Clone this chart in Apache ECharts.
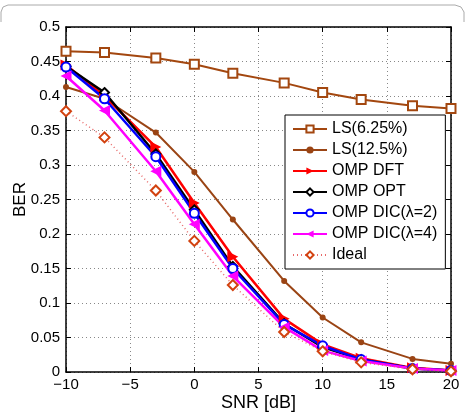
<!DOCTYPE html>
<html>
<head>
<meta charset="utf-8">
<script src="https://cdn.jsdelivr.net/npm/echarts@6/dist/echarts.min.js"></script>
<style>
html, body { margin: 0; padding: 0; background: #fff; }
#chart { width: 466px; height: 412px; }
</style>
</head>
<body>
<div id="chart"></div>
<script>
var snr = [-10, -7, -3, 0, 3, 7, 10, 13, 17, 20];

var ls625 = [0.465, 0.463, 0.455, 0.446, 0.433, 0.419, 0.405, 0.395, 0.386, 0.382];
var ls125 = [0.413, 0.396, 0.347, 0.290, 0.221, 0.132, 0.079, 0.043, 0.019, 0.012];
var ompDft = [0.445, 0.400, 0.326, 0.245, 0.167, 0.077, 0.040, 0.020, 0.006, 0.002];
var ompOpt = [0.443, 0.405, 0.316, 0.235, 0.153, 0.070, 0.036, 0.018, 0.005, 0.002];
var dic2 = [0.442, 0.396, 0.312, 0.230, 0.150, 0.069, 0.038, 0.018, 0.005, 0.002];
var dic4 = [0.429, 0.379, 0.291, 0.214, 0.139, 0.065, 0.031, 0.016, 0.005, 0.002];
var ideal = [0.378, 0.340, 0.263, 0.190, 0.126, 0.058, 0.030, 0.014, 0.004, 0.001];

var font = 'Liberation Sans, Arial, sans-serif';

function pairs(arr) {
    var out = [];
    for (var i = 0; i < arr.length; i++) {
        out.push([snr[i], arr[i]]);
    }
    return out;
}

function makeSeries(name, data, color, lineOpts, symOpts) {
    var s = {
        name: name,
        type: 'line',
        data: pairs(data),
        xAxisIndex: 0,
        yAxisIndex: 0,
        showAllSymbol: true,
        animation: false,
        lineStyle: { color: color, width: 2 },
        itemStyle: { color: color },
        emphasis: { disabled: true }
    };
    for (var k in lineOpts) s.lineStyle[k] = lineOpts[k];
    for (var m in symOpts) s[m] = symOpts[m];
    return s;
}

var chart = echarts.init(document.getElementById('chart'), null, { renderer: 'canvas' });

var boxAxisX = {
    type: 'value', min: -10, max: 20, interval: 5,
    axisLine: { show: true, onZero: false, lineStyle: { color: '#000', width: 1.5 } },
    axisTick: { show: true, inside: true, length: 5, lineStyle: { color: '#000' } },
    splitLine: { show: false }
};
var boxAxisY = {
    type: 'value', min: 0, max: 0.5, interval: 0.05,
    axisLine: { show: true, onZero: false, lineStyle: { color: '#000', width: 1.5 } },
    axisTick: { show: true, inside: true, length: 5, lineStyle: { color: '#000' } },
    splitLine: { show: false }
};

var option = {
    backgroundColor: '#fff',
    animation: false,
    textStyle: { fontFamily: font },
    grid: { left: 66, right: 15, top: 27, bottom: 40, containLabel: false, outerBoundsMode: 'none' },
    legend: {
        orient: 'vertical',
        left: 285,
        top: 115,
        padding: [6, 8, 6, 7],
        itemGap: 5,
        itemWidth: 34,
        itemHeight: 9,
        backgroundColor: '#fff',
        borderColor: '#000',
        borderWidth: 1,
        borderRadius: 0,
        textStyle: { fontFamily: font, fontSize: 16, lineHeight: 14, color: '#000' },
        data: ['LS(6.25%)', 'LS(12.5%)', 'OMP DFT', 'OMP OPT', 'OMP DIC(\u03bb=2)', 'OMP DIC(\u03bb=4)', 'Ideal']
    },
    xAxis: [
        {
            type: 'value', min: -10, max: 20, interval: 5,
            name: 'SNR [dB]', nameLocation: 'middle', nameGap: 22, nameMoveOverlap: false,
            nameTextStyle: { fontFamily: font, fontSize: 18, color: '#000' },
            axisLine: { show: true, onZero: false, lineStyle: { color: '#000', width: 1.5 } },
            axisTick: { show: true, inside: true, length: 5, lineStyle: { color: '#000' } },
            axisLabel: {
                color: '#000', fontSize: 15, fontFamily: font, margin: 5,
                formatter: function (v) { return String(v).replace('-', '\u2212'); }
            },
            splitLine: { show: true, lineStyle: { color: '#888', width: 1, type: [1, 3] } }
        },
        Object.assign({ position: 'top', axisLabel: { show: false } }, boxAxisX)
    ],
    yAxis: [
        {
            type: 'value', min: 0, max: 0.5, interval: 0.05,
            name: 'BER', nameLocation: 'middle', nameGap: 37, nameRotate: 90, nameMoveOverlap: false,
            nameTextStyle: { fontFamily: font, fontSize: 17, color: '#000' },
            axisLine: { show: true, onZero: false, lineStyle: { color: '#000', width: 1.5 } },
            axisTick: { show: true, inside: true, length: 5, lineStyle: { color: '#000' } },
            axisLabel: {
                color: '#000', fontSize: 15, fontFamily: font, margin: 6,
                formatter: function (v) { return String(+v.toFixed(2)); }
            },
            splitLine: { show: true, lineStyle: { color: '#888', width: 1, type: [1, 3] } }
        },
        Object.assign({ position: 'right', axisLabel: { show: false } }, boxAxisY)
    ],
    graphic: [
        {
            type: 'polyline',
            silent: true,
            shape: { points: [[1, 22], [1, 12], [3, 7], [8, 5], [455, 5], [461, 7], [464, 12], [464, 22]] },
            style: { stroke: '#aaa', fill: null, lineWidth: 1 }
        }
    ],
    series: [
        makeSeries('LS(6.25%)', ls625, '#a3470f', {}, {
            symbol: 'emptyRect', symbolSize: 9
        }),
        makeSeries('LS(12.5%)', ls125, '#9a4414', {}, {
            symbol: 'circle', symbolSize: 6
        }),
        makeSeries('OMP DFT', ompDft, '#ff0000', { width: 2.5 }, {
            symbol: 'triangle', symbolSize: 11, symbolRotate: -90
        }),
        makeSeries('OMP OPT', ompOpt, '#000000', { width: 2.5 }, {
            symbol: 'emptyDiamond', symbolSize: 9
        }),
        makeSeries('OMP DIC(\u03bb=2)', dic2, '#0000ff', { width: 2.5 }, {
            symbol: 'emptyCircle', symbolSize: 9
        }),
        makeSeries('OMP DIC(\u03bb=4)', dic4, '#ff00ff', { width: 2.5 }, {
            symbol: 'triangle', symbolSize: 11, symbolRotate: 90
        }),
        (function () {
            var s = makeSeries('Ideal', ideal, '#d2420f', { color: '#e86a6a', width: 1.5, type: [1, 3] }, {
                symbol: 'emptyDiamond', symbolSize: 10
            });
            s.itemStyle.borderWidth = 1.5;
            return s;
        })()
    ]
};

chart.setOption(option);
</script>
</body>
</html>
